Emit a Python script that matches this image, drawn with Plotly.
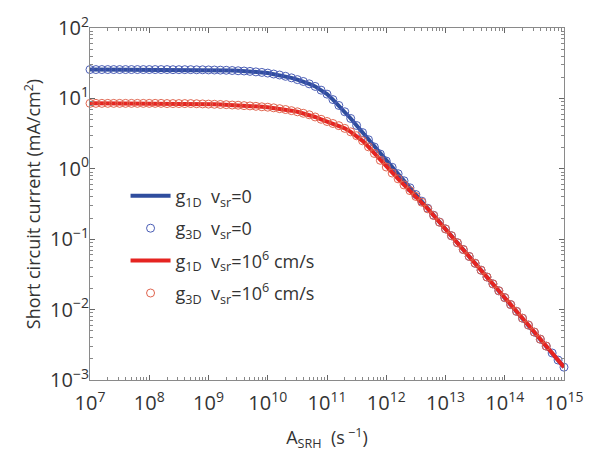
import plotly.graph_objects as go

# A_SRH values (s^-1): 10 points per decade from 1e7 to 1e15
log_a = [7.0 + 0.1 * k for k in range(81)]
a_srh = [10 ** v for v in log_a]

# Short circuit current (mA/cm^2), v_sr = 0
j_vsr0 = [25.7, 25.7, 25.7, 25.7, 25.7, 25.7, 25.7, 25.7, 25.7, 25.7,
          25.7, 25.7, 25.7, 25.7, 25.6, 25.6, 25.6, 25.6, 25.5, 25.5,
          25.4, 25.3, 25.2, 25.1, 24.9, 24.7, 24.5, 24.2, 23.8, 23.4,
          22.9, 22.2, 21.5, 20.6, 19.6, 18.5, 17.4, 16.1, 14.8, 13.1,
          11.5, 9.62, 7.94, 6.46, 5.19, 4.12, 3.27, 2.59, 2.04, 1.62,
          1.29, 1.05, 0.851, 0.676, 0.537, 0.431, 0.347, 0.275, 0.219, 0.175,
          0.140, 0.112, 0.0891, 0.0713, 0.0569, 0.0455, 0.0363, 0.0290, 0.0232, 0.0185,
          0.0148, 0.0118, 0.00944, 0.00755, 0.00603, 0.00479, 0.00380, 0.00303, 0.00242, 0.00192,
          0.00152]

# Short circuit current (mA/cm^2), v_sr = 1e6 cm/s
j_vsr6 = [8.5, 8.5, 8.5, 8.5, 8.5, 8.5, 8.5, 8.5, 8.5, 8.5,
          8.5, 8.5, 8.5, 8.45, 8.45, 8.45, 8.45, 8.45, 8.4, 8.35,
          8.3, 8.25, 8.2, 8.15, 8.05, 8.0, 7.9, 7.82, 7.72, 7.6,
          7.5, 7.35, 7.15, 6.95, 6.7, 6.45, 6.15, 5.85, 5.45, 5.05,
          4.7, 4.4, 4.1, 3.75, 3.35, 2.95, 2.5, 2.05, 1.65, 1.32,
          1.06, 0.87, 0.72, 0.59, 0.49, 0.405, 0.335, 0.27, 0.217, 0.174,
          0.140, 0.112, 0.0891, 0.0713, 0.0569, 0.0455, 0.0363, 0.0290, 0.0232, 0.0185,
          0.0148, 0.0118, 0.00944, 0.00755, 0.00603, 0.00479, 0.00380, 0.00303, 0.00242, 0.00192,
          0.00152]

# 3D model results (circles)
j3d_vsr0 = list(j_vsr0)
j3d_vsr6 = list(j_vsr6[:78])
a3d_vsr6 = list(a_srh[:78])

x_exps = [7, 8, 9, 10, 11, 12, 13, 14, 15]
y_exps = [-3, -2, -1, 0, 1, 2]
x_ticks = [10.0 ** e for e in x_exps]
y_ticks = [10.0 ** e for e in y_exps]
x_ticktext = ["10<sup>%d</sup>" % e for e in x_exps]
y_ticktext = ["10<sup>%s</sup>" % (("\u2212%d" % -e) if e < 0 else "%d" % e) for e in y_exps]


def minor_vals(lo, hi):
    return [m * 10.0 ** e for e in range(lo, hi) for m in range(2, 10)]


BLUE = "#2f4d9e"
BLUE_M = "#4a5db5"
RED = "#e52421"
RED_M = "#e0654f"
FONT = "Open Sans"
TXT = "#333333"

fig = go.Figure()
fig.add_trace(go.Scatter(x=a_srh, y=j_vsr0, mode="lines",
                         line=dict(color=BLUE, width=4), legendgroup="a",
                         name="g<sub>1D</sub>  v<sub>sr</sub>=0"))
fig.add_trace(go.Scatter(x=a_srh, y=j3d_vsr0, mode="markers", legendgroup="b",
                         marker=dict(symbol="circle-open", size=8, color=BLUE_M,
                                     line=dict(width=1, color=BLUE_M)),
                         name="g<sub>3D</sub>  v<sub>sr</sub>=0"))
fig.add_trace(go.Scatter(x=a_srh, y=j_vsr6, mode="lines", legendgroup="c",
                         line=dict(color=RED, width=4),
                         name="g<sub>1D</sub>  v<sub>sr</sub>=10<sup>6</sup> cm/s"))
fig.add_trace(go.Scatter(x=a3d_vsr6, y=j3d_vsr6, mode="markers", legendgroup="d",
                         marker=dict(symbol="circle-open", size=8, color=RED_M,
                                     line=dict(width=1, color=RED_M)),
                         name="g<sub>3D</sub>  v<sub>sr</sub>=10<sup>6</sup> cm/s"))

fig.update_traces(cliponaxis=False)

axis_common = dict(
    type="log", showgrid=False, zeroline=False,
    showline=True, linecolor="#8a8a8a", linewidth=1, mirror="ticks",
    ticks="inside", ticklen=5, tickcolor="#666666", tickwidth=1,
    tickfont=dict(family=FONT, size=20, color=TXT),
    ticklabeloverflow="allow",
)

fig.update_layout(
    width=595, height=457,
    margin=dict(l=90, r=17, t=17, b=76),
    paper_bgcolor="white", plot_bgcolor="white",
    font=dict(family=FONT, color=TXT),
    showlegend=True,
    legend=dict(x=0.075, y=0.575, xanchor="left", yanchor="top",
                bgcolor="rgba(255,255,255,0)", borderwidth=0,
                font=dict(family=FONT, size=18, color=TXT),
                tracegroupgap=6, itemwidth=40),
    xaxis=dict(axis_common, range=[6.9999, 15.0001], tickmode="array",
               tickvals=x_ticks, ticktext=x_ticktext, ticklabelstandoff=5,
               minor=dict(ticks="inside", ticklen=3, tickcolor="#888888",
                          tickmode="array", tickvals=minor_vals(7, 15), showgrid=False),
               title=dict(text="A<sub>SRH</sub>  (s<sup> \u22121</sup>)",
                          font=dict(family=FONT, size=18, color=TXT),
                          standoff=16)),
    yaxis=dict(axis_common, range=[-3.0001, 2.0001], tickmode="array",
               tickvals=y_ticks, ticktext=y_ticktext, ticklabelstandoff=-4,
               minor=dict(ticks="inside", ticklen=3, tickcolor="#888888",
                          tickmode="array", tickvals=minor_vals(-3, 2), showgrid=False),
               title=dict(text="Short circuit current (mA/cm<sup>2</sup>)",
                          font=dict(family=FONT, size=18, color=TXT),
                          standoff=4)),
)

fig.write_html("out.html")
